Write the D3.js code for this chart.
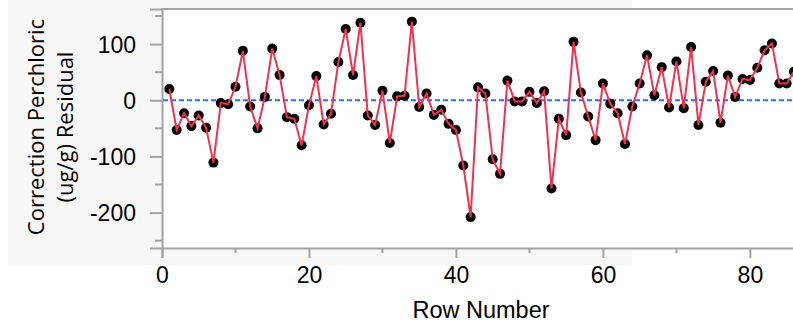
<!DOCTYPE html>
<html>
<head>
<meta charset="utf-8">
<script src="https://cdnjs.cloudflare.com/ajax/libs/d3/7.8.5/d3.min.js"></script>
<style>
  body { margin: 0; background: #fff; }
  svg { display: block; }
</style>
</head>
<body>
<div id="chart"></div>
<script>
// residual values, rows 1..86
var rows = d3.range(1, 87);
var residuals = [
  20, -53, -23, -46, -27, -49, -111, -5, -7, 24,
  88, -11, -50, 6, 92, 45, -30, -33, -80, -9,
  43, -43, -24, 68, 127, 45, 138, -27, -44, 17,
  -76, 7, 8, 140, -12, 12, -26, -17, -42, -53,
  -116, -208, 23, 12, -105, -131, 35, -2, -2, 15,
  -5, 16, -157, -33, -62, 104, 14, -29, -71, 30,
  -6, -23, -78, -11, 30, 80, 9, 59, -13, 69,
  -14, 95, -44, 33, 52, -40, 44, 6, 38, 36,
  58, 89, 101, 30, 30, 51
];
var xTicks = [0, 20, 40, 60, 80];
var xMinor = [10, 30, 50, 70];
var yTicks = [100, 0, -100, -200];
var yMinor = [150, 50, -50, -150, -250];

var data = rows.map(function(r, i) { return {row: r, res: residuals[i]}; });

var W = 793, H = 324;
var svg = d3.select("#chart").append("svg")
  .attr("width", W)
  .attr("height", H);

// light gray panel behind the axes
svg.append("rect")
  .attr("x", 8).attr("y", 0)
  .attr("width", 624).attr("height", 265)
  .attr("fill", "#f7f7f7");

var x = d3.scaleLinear().domain([0, 86]).range([162, 794]);
var y = d3.scaleLinear().domain([-263, 162.5]).range([248, 9]);

// white plot area
svg.append("rect")
  .attr("x", 162).attr("y", 9)
  .attr("width", W - 162).attr("height", 239)
  .attr("fill", "#fff");

var axisColor = "#a3a3a3";
var tickFont = "'Liberation Sans', Arial, Helvetica, sans-serif";
var plain = function(d) { return String(d); }; // keep ascii hyphen like the original

// x axis
var xAxis = svg.append("g")
  .attr("transform", "translate(0,248)")
  .call(d3.axisBottom(x).tickValues(xTicks).tickSize(10).tickPadding(9).tickFormat(plain));
xAxis.append("g").selectAll("line")
  .data(xMinor).enter().append("line")
  .attr("x1", d => x(d)).attr("x2", d => x(d))
  .attr("y1", 0).attr("y2", 5);

// y axis
var yAxis = svg.append("g")
  .attr("transform", "translate(162,0)")
  .call(d3.axisLeft(y).tickValues(yTicks).tickSize(12).tickPadding(14).tickFormat(plain));
yAxis.append("g").selectAll("line")
  .data(yMinor).enter().append("line")
  .attr("x1", 0).attr("x2", -7)
  .attr("y1", d => y(d)).attr("y2", d => y(d));

[xAxis, yAxis].forEach(function(a) {
  a.select(".domain").attr("stroke", axisColor).attr("stroke-width", 2);
  a.selectAll("line").attr("stroke", axisColor).attr("stroke-width", 2);
  a.selectAll("text")
    .attr("fill", "#000")
    .style("font-family", tickFont)
    .style("font-size", "23px");
});
yAxis.selectAll(".tick text").attr("dy", "0.36em");

// top border of the frame
svg.append("line")
  .attr("x1", 161).attr("x2", W)
  .attr("y1", 9).attr("y2", 9)
  .attr("stroke", axisColor).attr("stroke-width", 2);

// zero reference line
svg.append("line")
  .attr("x1", x(0) + 1).attr("x2", W)
  .attr("y1", y(0)).attr("y2", y(0))
  .attr("stroke", "#2f6bff")
  .attr("stroke-width", 2.2)
  .attr("stroke-dasharray", "5,3");

// points
svg.selectAll("circle.pt")
  .data(data).enter().append("circle")
  .attr("class", "pt")
  .attr("cx", d => x(d.row))
  .attr("cy", d => y(d.res))
  .attr("r", 5)
  .attr("fill", "#000");

// connecting line, drawn over the points
var line = d3.line()
  .x(d => x(d.row))
  .y(d => y(d.res));
svg.append("path")
  .datum(data)
  .attr("d", line)
  .attr("fill", "none")
  .attr("stroke", "#ee3350")
  .attr("stroke-width", 2)
  .attr("stroke-linejoin", "miter");

// axis titles
svg.append("text")
  .attr("x", 481).attr("y", 318)
  .attr("text-anchor", "middle")
  .style("font-family", tickFont)
  .style("font-size", "23.5px")
  .text("Row Number");

var yTitle = svg.append("text")
  .attr("transform", "translate(0,127) rotate(-90)")
  .attr("text-anchor", "middle")
  .style("font-family", "'Open Sans', 'Noto Sans', sans-serif")
  .style("font-size", "22px");
yTitle.append("tspan").attr("x", 0).attr("y", 44).text("Correction Perchloric");
yTitle.append("tspan").attr("x", 0).attr("y", 73).text("(ug/g) Residual");
</script>
</body>
</html>
